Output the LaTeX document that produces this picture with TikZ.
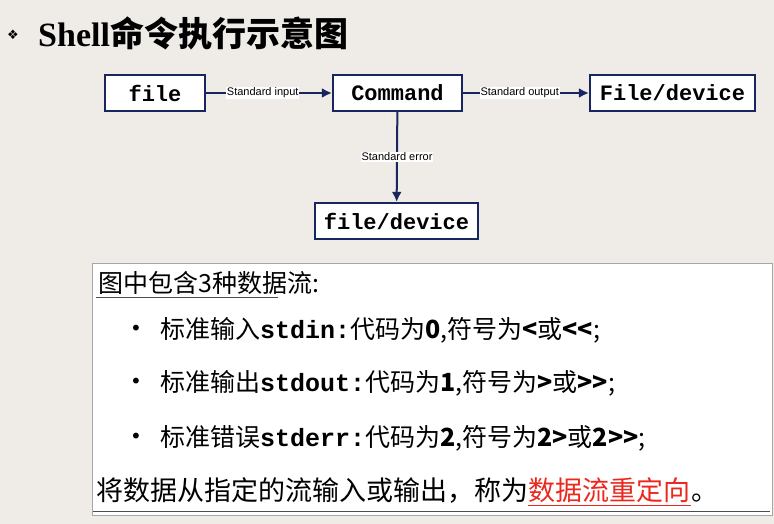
\documentclass[tikz,border=0pt]{standalone}
\usetikzlibrary{arrows.meta}
\usepackage{fontspec}
\setmainfont{Liberation Serif}
\setsansfont{Liberation Sans}
\setmonofont{Liberation Mono}
\newfontfamily\cjk{Noto Sans CJK SC}
\newfontfamily\sym{DejaVu Sans}
\begin{document}
\begin{tikzpicture}[x=1pt,y=-1pt,
  box/.style={draw=navy,line width=2.2pt,fill=white,inner sep=0pt,font=\ttfamily\bfseries\fontsize{22}{22}\selectfont},
  lab/.style={fill=white,inner sep=1pt,font=\sffamily\fontsize{11}{11}\selectfont},
  arr/.style={draw=navy,line width=2pt,-{Latex[length=10pt,width=10pt]}},
  line/.style={font=\cjk\fontsize{25}{25}\selectfont,anchor=west,inner sep=0pt},
  last/.style={font=\cjk\fontsize{27}{27}\selectfont,anchor=base west,inner sep=0pt}]
\definecolor{navy}{RGB}{23,38,95}
\definecolor{bg}{RGB}{239,236,231}
\definecolor{redt}{RGB}{235,40,30}
\useasboundingbox (0,0) rectangle (774,524);
\fill[bg] (0,0) rectangle (774,524);
\node[anchor=center,font=\sym\fontsize{13}{13}\selectfont] (bul) at (13,35) {❖};
\node[anchor=west,inner sep=0pt,font=\bfseries\fontsize{34}{34}\selectfont] (title) at (38,33) {Shell{\cjk 命令执行示意图}};
\node[box,minimum width=100pt,minimum height=36pt] (f) at (155,93) {file};
\node[box,minimum width=129pt,minimum height=36pt] (c) at (397.5,93) {Command};
\node[box,minimum width=165pt,minimum height=36pt] (o) at (672.5,93) {File/device};
\node[box,minimum width=163pt,minimum height=36pt] (e) at (396.5,221) {file/device};
\draw[arr] (f) -- (c) node[lab,pos=0.45] {Standard input};
\draw[arr] (c) -- (o) node[lab,pos=0.45] {Standard output};
\draw[arr] (c) -- (e) node[lab,pos=0.5] {Standard error};
\node[draw=gray!70,fill=white,line width=0.8pt,minimum width=680pt,minimum height=252pt,anchor=north west,inner sep=0pt] (panel) at (92,263) {};
\node[line] (h) at (98,283) {图中包含3种数据流:};
\draw[gray!60!black,line width=0.8pt] (96,297) -- (278,297);
\foreach \y/\n/\t in {330/a/{标准输入{\ttfamily\bfseries stdin:}代码为{\bfseries 0},符号为{\bfseries <}或{\bfseries <<};},
  383/b/{标准输出{\ttfamily\bfseries stdout:}代码为{\bfseries 1},符号为{\bfseries >}或{\bfseries >>};},
  438/c/{标准错误{\ttfamily\bfseries stderr:}代码为{\bfseries 2},符号为{\bfseries 2>}或{\bfseries 2>>};}}{
  \node[line,font=\sym\fontsize{20}{20}\selectfont] (d\n) at (130,\y) {•};
  \node[line] (t\n) at (160,\y) {\t};
}
\node[last] (l1) at (96,500) {将数据从指定的流输入或输出，称为};
\node[last,text=redt] (l2) at (l1.base east) {数据流重定向};
\node[last] (l3) at (l2.base east) {。};
\draw[gray!60!black,line width=0.8pt] (93,511) -- (770,511);
\draw[redt,line width=0.8pt] (l2.south west) ++(0,3) -- ([yshift=-3pt]l2.south east);
\end{tikzpicture}
\end{document}
